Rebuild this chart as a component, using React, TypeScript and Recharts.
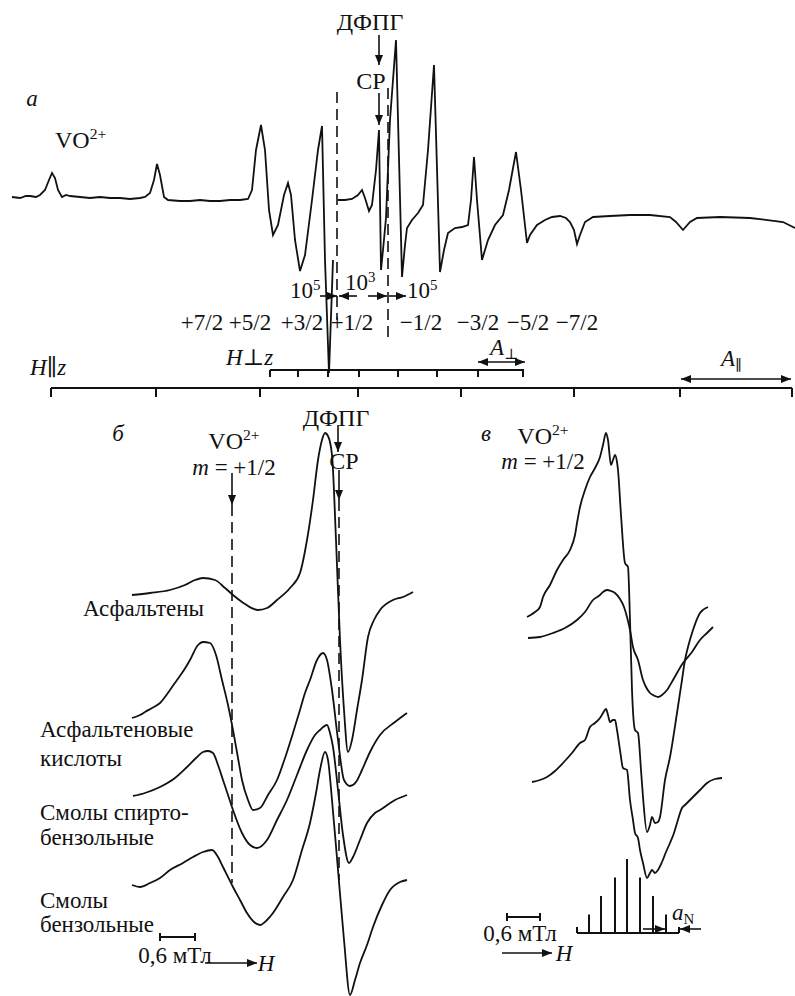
import React from 'react'
import { LineChart, Line, XAxis, YAxis, ReferenceLine } from 'recharts'

// ---- panel а: full spectrum (field in arb. units, signal relative to baseline)
const aField = [12, 20, 26, 30, 36, 40, 45, 49, 52, 55, 58, 62, 66, 70, 80, 90, 100, 110, 120, 130, 140, 145, 150, 154, 157, 160, 164, 168, 180, 190, 200, 210, 220, 230, 240, 248, 252, 256, 261, 265, 269, 273, 278, 284, 288, 291, 295, 300, 305, 312, 318, 322, 325, 329, 333, 335, 338, 345, 352, 358, 362, 365, 369, 372, 376, 379, 381, 383, 386, 390, 396, 402, 405, 407, 412, 418, 423, 428, 434, 440, 444, 448, 455, 462, 468, 471, 474, 477, 482, 488, 495, 503, 509, 516, 521, 527, 530, 537, 545, 552, 560, 566, 570, 574, 577, 580, 585, 593, 610, 630, 650, 670, 676, 683, 690, 697, 720, 750, 783, 795]
const aSignal: (number | null)[] = [3, 2, 4, 4, 3, 5, 10, 20, 27, 22, 10, 3, 5, 4, 3, 2, 3, 2, 2, 1, 2, 3, 7, 20, 36, 25, 3, 0, -1, -1, 0, -1, -1, 0, 0, 1, 10, 50, 75, 50, -10, -35, -25, 5, 17, 5, -40, -71, -55, 0, 50, 74, -60, -173, -60, null, 0, 0, 1, 5, 10, 2, -11, -5, 30, 70, -70, -50, -18, 80, 160, -77, -45, -28, -20, -13, -5, 50, 135, -72, -50, -33, -28, -27, -25, 0, 43, 0, -60, -40, -25, -15, 10, 48, 10, -43, -35, -25, -20, -17, -16, -18, -22, -30, -44, -35, -22, -17, -16, -15, -15, -17, -22, -30, -22, -18, -17, -18, -22, -28]

const hParTicks = [51, 156, 260, 358, 461, 574, 680, 792]
const hPerpTicks = [270, 298, 328, 359, 398, 437, 478, 523]
const mLabels = ['+7/2', '+5/2', '+3/2', '+1/2', '−1/2', '−3/2', '−5/2', '−7/2']
const mLabelPos = [202, 250, 302, 352, 421, 478, 528, 577]

// ---- panel б: four fractions
const asphField = [132, 150, 170, 185, 195, 203, 215, 225, 233, 245, 258, 267, 277, 290, 300, 307, 313, 318, 322, 325, 328, 332, 336, 340, 344, 348, 352, 357, 362, 368, 374, 380, 393, 403, 413]
const asphSignal = [0, 2, 5, 10, 15, 17, 15, 7, 0, -9, -15, -13, -5, 7, 22, 55, 95, 135, 155, 162, 159, 140, 55, -45, -115, -157, -145, -115, -85, -42, -25, -15, -5, -2, 3]
const acidField = [132, 140, 145, 152, 160, 170, 177, 184, 190, 198, 203, 210, 216, 222, 228, 233, 238, 242, 248, 253, 260, 268, 277, 285, 293, 300, 305, 310, 317, 323, 327, 332, 338, 344, 350, 356, 362, 370, 380, 395, 407]
const acidSignal = [0, 3, 6, 10, 15, 28, 38, 48, 58, 73, 76, 75, 63, 38, 13, -12, -40, -62, -82, -92, -90, -77, -62, -40, -15, 8, 25, 38, 58, 65, 58, 28, -22, -62, -68, -64, -52, -34, -17, -4, 5]
const alcResField = [133, 145, 160, 175, 187, 196, 203, 208, 213, 218, 223, 228, 233, 242, 250, 257, 267, 277, 287, 297, 307, 315, 320, 327, 330, 333, 338, 343, 349, 353, 360, 367, 375, 380, 395, 407]
const alcResSignal = [0, 3, 9, 18, 29, 38, 44, 45, 43, 31, 16, 1, -14, -37, -49, -52, -44, -24, -4, 21, 46, 61, 66, 71, 63, 49, 6, -39, -67, -61, -44, -27, -17, -14, -4, 1]
const benzResField = [132, 140, 150, 160, 170, 183, 193, 203, 212, 218, 223, 233, 240, 247, 254, 260, 267, 273, 283, 293, 302, 310, 316, 320, 325, 328, 332, 338, 344, 350, 355, 360, 367, 373, 382, 390, 400, 407]
const benzResSignal = [0, -2, 2, 7, 15, 22, 28, 33, 35, 28, 18, -2, -15, -28, -37, -40, -35, -28, -12, 5, 35, 62, 92, 115, 133, 125, 85, 15, -55, -110, -95, -78, -60, -42, -20, -5, 3, 5]
const fractionNames = ['Асфальтены', 'Асфальтеновые кислоты', 'Смолы спирто-бензольные', 'Смолы бензольные']
const fractionOffset = [401, 278, 200, 111]

// ---- panel в: high-resolution m = +1/2 line
const vAField = [527, 535, 540, 543, 550, 557, 563, 570, 575, 577, 580, 585, 590, 595, 600, 603, 606, 608, 611, 613, 615, 617, 618, 621, 625, 628, 630, 632, 635, 638, 641, 643, 647, 650, 652, 655, 658, 660, 665, 670, 677, 682, 685, 688, 693, 700, 708]
const vASignal = [0, 5, 10, 20, 32, 47, 57, 67, 82, 94, 110, 127, 140, 149, 160, 172, 184, 177, 152, 157, 162, 155, 147, 102, 54, 50, -3, -73, -113, -116, -153, -180, -215, -208, -200, -206, -205, -200, -163, -140, -96, -63, -43, -30, -13, 4, 10]
const vBField = [528, 540, 553, 565, 577, 585, 593, 600, 603, 607, 611, 615, 620, 624, 627, 630, 633, 638, 643, 646, 650, 655, 658, 662, 667, 673, 683, 692, 700, 707, 713]
const vBSignal = [0, 1, 5, 10, 18, 26, 38, 43, 46, 48, 47, 45, 39, 31, 21, 8, -9, -22, -42, -49, -55, -58, -59, -57, -52, -42, -25, -14, -2, 5, 11]
const vCField = [532, 540, 547, 555, 563, 572, 580, 585, 590, 595, 600, 603, 606, 608, 610, 613, 615, 617, 620, 623, 627, 630, 633, 635, 638, 640, 643, 647, 650, 652, 655, 658, 662, 666, 670, 674, 677, 682, 685, 690, 693, 700, 707, 715, 722]
const vCSignal = [0, 2, 5, 11, 19, 29, 39, 42, 55, 59, 64, 69, 73, 67, 60, 62, 62, 52, 32, 14, 12, -18, -38, -51, -56, -68, -81, -96, -91, -88, -91, -88, -80, -70, -61, -51, -41, -26, -23, -18, -15, -8, -1, 3, 4]
const vOffset = [379, 358, 214]

// nitrogen hyperfine stick pattern
const stickField = [589, 601, 615, 627, 640, 653, 666]
const stickIntensity = [1, 2, 3, 4, 3, 2, 1]

const INK = '#111'
const FONT = '"Liberation Serif", "DejaVu Serif", serif'

const rows = (h: number[], s: (number | null)[], offset = 0) =>
  h.map((x, i) => ({ h: x, s: s[i] === null ? null : (s[i] as number) + offset }))

const head = (x: number, y: number, a: number, key: string) => {
  const L = 10
  const W = 4
  const bx = x - L * Math.cos(a)
  const by = y - L * Math.sin(a)
  return (
    <polygon
      key={key}
      points={`${x},${y} ${bx - W * Math.sin(a)},${by + W * Math.cos(a)} ${bx + W * Math.sin(a)},${by - W * Math.cos(a)}`}
      fill={INK}
    />
  )
}

const arrow = (heads: 'end' | 'both', width = 1.6) => (p: any) => {
  const { x1, y1, x2, y2 } = p
  const a = Math.atan2(y2 - y1, x2 - x1)
  return (
    <g>
      <line x1={x1} y1={y1} x2={x2} y2={y2} stroke={INK} strokeWidth={width} />
      {head(x2, y2, a, 'e')}
      {heads === 'both' ? head(x1, y1, a + Math.PI, 's') : null}
    </g>
  )
}

const seg = (x1: number, y1: number, x2: number, y2: number, key: string, extra: any = {}) => (
  <ReferenceLine
    key={key}
    segment={[{ x: x1, y: y1 }, { x: x2, y: y2 }]}
    stroke={INK}
    strokeWidth={2}
    ifOverflow='visible'
    {...extra}
  />
)

const dashed = { strokeDasharray: '11 6', strokeWidth: 1.6 }

const T = ({ x, y, anchor = 'middle', italic = false, size = 23, children }: any) => (
  <div
    style={{
      position: 'absolute',
      left: x,
      top: y,
      transform: anchor === 'middle' ? 'translate(-50%,-50%)' : 'translate(0,-50%)',
      fontFamily: FONT,
      fontSize: size,
      lineHeight: 1,
      whiteSpace: 'nowrap',
      fontStyle: italic ? 'italic' : 'normal',
      color: INK,
    }}
  >
    {children}
  </div>
)
const Sup = ({ children }: any) => (
  <span style={{ fontSize: '0.65em', position: 'relative', top: '-0.55em' }}>{children}</span>
)
const Sub = ({ children }: any) => (
  <span style={{ fontSize: '0.65em', position: 'relative', top: '0.3em' }}>{children}</span>
)

const Trace = (data: any[], key: string, type: 'linear' | 'monotone') => (
  <Line
    key={key}
    data={data}
    dataKey='s'
    type={type}
    stroke={INK}
    strokeWidth={1.8}
    dot={false}
    activeDot={false}
    connectNulls={false}
    isAnimationActive={false}
  />
)

const Frame = ({ left, top, width, height, xDomain, yDomain, children }: any) => (
  <div style={{ position: 'absolute', left, top }}>
    <LineChart width={width} height={height} margin={{ top: 0, right: 0, bottom: 0, left: 0 }}>
      <XAxis dataKey='h' type='number' domain={xDomain} allowDataOverflow hide />
      <YAxis type='number' domain={yDomain} allowDataOverflow hide />
      {children}
    </LineChart>
  </div>
)

export default function App() {
  const fractions = [
    rows(asphField, asphSignal, fractionOffset[0]),
    rows(acidField, acidSignal, fractionOffset[1]),
    rows(alcResField, alcResSignal, fractionOffset[2]),
    rows(benzResField, benzResSignal, fractionOffset[3]),
  ]
  const vTraces = [
    rows(vAField, vASignal, vOffset[0]),
    rows(vBField, vBSignal, vOffset[1]),
    rows(vCField, vCSignal, vOffset[2]),
  ]
  const stickBase = 63
  const stickUnit = 18.5

  return (
    <div style={{ position: 'absolute', left: 0, top: 0, width: 795, height: 996, background: '#fff', overflow: 'hidden' }}>
      {/* panel а */}
      <Frame left={0} top={0} width={795} height={400} xDomain={[0, 795]} yDomain={[-200, 200]}>
        {Trace(rows(aField, aSignal), 'a', 'linear')}
        {seg(337, 108, 337, -120, 'd1', dashed)}
        {seg(388, 112, 388, -137, 'd2', dashed)}
        {seg(379, 165, 379, 135, 'ar1', { shape: arrow('end') })}
        {seg(379, 107, 379, 75, 'ar2', { shape: arrow('end') })}
        {seg(320, -96, 337, -96, 'g1', { shape: arrow('end') })}
        {seg(357, -96, 339, -96, 'g2', { shape: arrow('end') })}
        {seg(368, -96, 387, -96, 'g3', { shape: arrow('end') })}
        {seg(389, -96, 406, -96, 'g4', { shape: arrow('end') })}
        {seg(270, -170, 524, -170, 'perp')}
        {hPerpTicks.map((t, i) => seg(t, -170, t, -177, 'pt' + i))}
        {seg(478, -162, 525, -162, 'aperp', { shape: arrow('both') })}
        {seg(51, -188, 792, -188, 'par')}
        {hParTicks.map((t, i) => seg(t, -188, t, -197, 'qt' + i))}
        {seg(681, -179, 791, -179, 'apar', { shape: arrow('both') })}
      </Frame>

      {/* panel б */}
      <Frame left={0} top={400} width={480} height={596} xDomain={[0, 480]} yDomain={[0, 596]}>
        {fractions.map((d, i) => Trace(d, 'f' + i, 'monotone'))}
        {seg(232, 523, 232, 491, 'bv', { shape: arrow('end') })}
        {seg(232, 491, 232, 113, 'bvd', dashed)}
        {seg(338, 571, 338, 544, 'bd', { shape: arrow('end') })}
        {seg(339, 526, 339, 496, 'bc', { shape: arrow('end') })}
        {seg(339, 496, 339, 116, 'bcd', dashed)}
        {seg(160, 59, 195, 59, 'bs')}
        {seg(160, 55, 160, 63, 'bs1')}
        {seg(195, 55, 195, 63, 'bs2')}
        {seg(205, 33, 257, 33, 'bh', { shape: arrow('end') })}
      </Frame>

      {/* panel в */}
      <Frame left={480} top={400} width={315} height={596} xDomain={[480, 795]} yDomain={[0, 596]}>
        {vTraces.map((d, i) => Trace(d, 'v' + i, 'monotone'))}
        {seg(507, 79, 540, 79, 'vs')}
        {seg(507, 75, 507, 83, 'vs1')}
        {seg(540, 75, 540, 83, 'vs2')}
        {seg(502, 43, 552, 43, 'vh', { shape: arrow('end') })}
        {seg(577, stickBase, 679, stickBase, 'sb')}
        {seg(577, stickBase, 577, stickBase + 6, 'sb1')}
        {seg(679, stickBase, 679, stickBase + 6, 'sb2')}
        {stickField.map((f, i) => seg(f, stickBase, f, stickBase + stickIntensity[i] * stickUnit, 'st' + i))}
        {seg(643, 67, 665, 67, 'an1', { shape: arrow('end') })}
        {seg(701, 67, 680, 67, 'an2', { shape: arrow('end') })}
      </Frame>

      {/* labels, panel а */}
      <T x={32} y={98} italic>а</T>
      <T x={55} y={140} anchor='start' size={24}>VO<Sup>2+</Sup></T>
      <T x={370} y={22} size={24}>ДФПГ</T>
      <T x={371} y={81} size={24}>СР</T>
      <T x={290} y={290} anchor='start'>10<Sup>5</Sup></T>
      <T x={345} y={282} anchor='start'>10<Sup>3</Sup></T>
      <T x={407} y={290} anchor='start'>10<Sup>5</Sup></T>
      {mLabels.map((m, i) => (
        <T key={m} x={mLabelPos[i]} y={322}>{m}</T>
      ))}
      <T x={226} y={357} anchor='start'><i>H</i>⊥<i>z</i></T>
      <T x={490} y={347} anchor='start'><i>A</i><Sub>⊥</Sub></T>
      <T x={30} y={367} anchor='start'><i>H</i>∥<i>z</i></T>
      <T x={721} y={358} anchor='start'><i>A</i><Sub>∥</Sub></T>

      {/* labels, panel б */}
      <T x={118} y={433} italic>б</T>
      <T x={234} y={441} size={24}>VO<Sup>2+</Sup></T>
      <T x={234} y={467}><i>m</i> = +1/2</T>
      <T x={336} y={418} size={24}>ДФПГ</T>
      <T x={344} y={461} size={24}>СР</T>
      <T x={83} y={608} anchor='start'>{fractionNames[0]}</T>
      <T x={40} y={729} anchor='start'>Асфальтеновые</T>
      <T x={40} y={758} anchor='start'>кислоты</T>
      <T x={40} y={812} anchor='start'>Смолы спирто-</T>
      <T x={40} y={837} anchor='start'>бензольные</T>
      <T x={40} y={900} anchor='start'>Смолы</T>
      <T x={40} y={924} anchor='start'>бензольные</T>
      <T x={175} y={955}>0,6 мТл</T>
      <T x={266} y={963} italic>H</T>

      {/* labels, panel в */}
      <T x={486} y={433} italic>в</T>
      <T x={543} y={436} size={24}>VO<Sup>2+</Sup></T>
      <T x={543} y={461}><i>m</i> = +1/2</T>
      <T x={520} y={933}>0,6 мТл</T>
      <T x={564} y={953} italic>H</T>
      <T x={672} y={912} anchor='start'><i>a</i><Sub>N</Sub></T>
    </div>
  )
}
